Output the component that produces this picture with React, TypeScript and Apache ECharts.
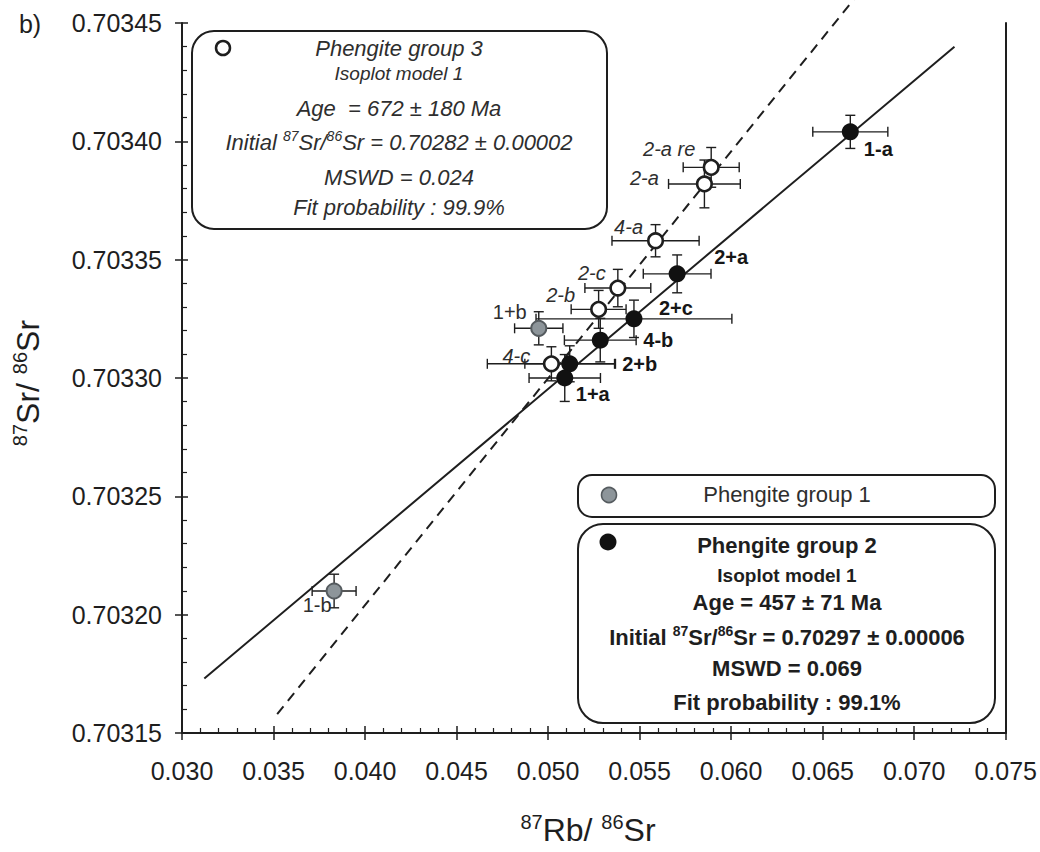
import React, { useEffect, useRef } from "react";
import * as echarts from "echarts";

const FONT = '"Liberation Sans", Arial, Helvetica, sans-serif';
const INK = "#1e1e1e";
const GREY_TXT = "#2e2e2e";

// ---- axes ----
const xMin = 0.03;
const xMax = 0.075;
const xStep = 0.005;
const yMin = 0.70315;
const yMax = 0.70345;
const yStep = 0.00005;

// ---- Phengite group 3 (open circles) ----
const g3Names = ["2-a re", "2-a", "4-a", "2-c", "2-b", "4-c"];
const g3X = [0.05891, 0.05854, 0.05587, 0.05381, 0.05276, 0.05018];
const g3Y = [0.703389, 0.703382, 0.703358, 0.703338, 0.703329, 0.703306];
const g3XErr = [0.00153, 0.00196, 0.00238, 0.0018, 0.0015, 0.0035];
const g3YErr = [0.0000084, 0.0000101, 0.0000068, 0.0000079, 0.000008, 0.0000072];

// ---- Phengite group 2 (black circles) ----
const g2Names = ["1-a", "2+a", "2+c", "4-b", "2+b", "1+a"];
const g2X = [0.06651, 0.05705, 0.05469, 0.05285, 0.05118, 0.05091];
const g2Y = [0.703404, 0.703344, 0.703325, 0.703316, 0.703306, 0.7033];
const g2XErr = [0.00205, 0.00185, 0.00535, 0.00196, 0.00245, 0.00195];
const g2YErr = [0.000007, 0.000008, 0.0000079, 0.0000092, 0.0000076, 0.0000099];

// ---- Phengite group 1 (grey circles) ----
const g1Names = ["1+b", "1-b"];
const g1X = [0.04949, 0.03831];
const g1Y = [0.703321, 0.70321];
const g1XErr = [0.00132, 0.0012];
const g1YErr = [0.000007, 0.0000071];

// ---- isochrons (end points) ----
const iso2X = [0.03122, 0.0722];
const iso2Y = [0.703173, 0.70344];
const iso3X = [0.0352, 0.0667];
const iso3Y = [0.703158, 0.70346];

// label placement (pixels relative to the point)
const labelOffset: Record<string, [number, number]> = {
  "1-a": [28, 17],
  "2-a re": [-42, -18],
  "2-a": [-60, -6],
  "4-a": [-27, -14],
  "2+a": [54, -17],
  "2-c": [-26, -15],
  "2-b": [-38, -14],
  "1+b": [-29, -16],
  "2+c": [42, -11],
  "4-b": [58, 0],
  "4-c": [-35, -8],
  "2+b": [70, 0],
  "1+a": [28, 16],
  "1-b": [-17, 14],
};

function points(names: string[], xs: number[], ys: number[]) {
  return names.map((n, i) => ({
    name: n,
    value: [xs[i], ys[i]],
    label: { offset: labelOffset[n] },
  }));
}

function errRows(xs: number[], ys: number[], ex: number[], ey: number[]) {
  return xs.map((x, i) => [x, ys[i], ex[i], ey[i]]);
}

const errData = [
  ...errRows(g3X, g3Y, g3XErr, g3YErr),
  ...errRows(g1X, g1Y, g1XErr, g1YErr),
  ...errRows(g2X, g2Y, g2XErr, g2YErr),
];

function supRich(size: number, weight: string, style: string, fill: string) {
  return {
    s: {
      fontSize: size,
      fontWeight: weight,
      fontStyle: style,
      fontFamily: FONT,
      fill,
      verticalAlign: "top",
      lineHeight: size,
    },
  };
}

function boxText(
  text: string,
  x: number,
  y: number,
  size: number,
  weight: string,
  style: string,
  fill: string,
  supSize = 14
) {
  return {
    type: "text",
    x,
    y,
    z: 20,
    style: {
      text,
      fontSize: size,
      fontWeight: weight,
      fontStyle: style,
      fontFamily: FONT,
      fill,
      align: "center",
      verticalAlign: "middle",
      lineHeight: size + 4,
      rich: supRich(supSize, weight, style, fill),
    },
  };
}

export default function App() {
  const ref = useRef<HTMLDivElement>(null);

  useEffect(() => {
    const chart = echarts.init(ref.current!, null, { renderer: "svg" });

    const commonLabel = {
      show: true,
      formatter: "{b}",
      position: "inside",
      fontSize: 20,
      fontFamily: FONT,
      opacity: 1,
      textBorderWidth: 0,
      textBorderColor: "transparent",
    };

    const option: any = {
      animation: false,
      backgroundColor: "#ffffff",
      grid: { left: 182, top: 23, width: 825, height: 710, containLabel: false },
      xAxis: [
        {
          type: "value",
          min: xMin,
          max: xMax,
          interval: xStep,
          position: "bottom",
          axisLine: { show: true, onZero: false, lineStyle: { color: INK, width: 2 } },
          axisTick: { show: true, inside: true, length: 7, lineStyle: { color: INK, width: 1.5 } },
          minorTick: { show: true, splitNumber: 5, length: 5, lineStyle: { color: INK, width: 1.2 } },
          axisLabel: {
            formatter: (v: number) => v.toFixed(3),
            fontSize: 25,
            fontFamily: FONT,
            color: INK,
            margin: 25,
          },
          splitLine: { show: false },
        },
        {
          type: "value",
          min: xMin,
          max: xMax,
          interval: xStep,
          position: "bottom",
          axisLine: { show: false, onZero: false },
          axisTick: { show: true, inside: false, length: 7, lineStyle: { color: INK, width: 1.5 } },
          axisLabel: { show: false },
          splitLine: { show: false },
        },
      ],
      yAxis: [
        {
          type: "value",
          min: yMin,
          max: yMax,
          interval: yStep,
          position: "left",
          axisLine: { show: true, onZero: false, lineStyle: { color: INK, width: 2 } },
          axisTick: { show: true, inside: true, length: 6, lineStyle: { color: INK, width: 1.5 } },
          minorTick: { show: true, splitNumber: 5, length: 5, lineStyle: { color: INK, width: 1.2 } },
          axisLabel: {
            formatter: (v: number) => v.toFixed(5),
            fontSize: 25,
            fontFamily: FONT,
            color: INK,
            margin: 20,
          },
          splitLine: { show: false },
        },
        {
          type: "value",
          min: yMin,
          max: yMax,
          interval: yStep,
          position: "left",
          axisLine: { show: false, onZero: false },
          axisTick: { show: true, inside: false, length: 7, lineStyle: { color: INK, width: 1.5 } },
          axisLabel: { show: false },
          splitLine: { show: false },
        },
        {
          type: "value",
          min: yMin,
          max: yMax,
          position: "right",
          axisLine: { show: true, onZero: false, lineStyle: { color: INK, width: 2 } },
          axisTick: { show: false },
          axisLabel: { show: false },
          splitLine: { show: false },
        },
      ],
      series: [
        {
          type: "line",
          name: "Isochron group 2",
          data: iso2X.map((x, i) => [x, iso2Y[i]]),
          showSymbol: false,
          symbol: "none",
          lineStyle: { color: INK, width: 2 },
          z: 2,
          silent: true,
        },
        {
          type: "line",
          name: "Isochron group 3",
          data: iso3X.map((x, i) => [x, iso3Y[i]]),
          showSymbol: false,
          symbol: "none",
          clip: false,
          lineStyle: { color: INK, width: 2, type: [10, 7] },
          z: 2,
          silent: true,
        },
        {
          type: "custom",
          name: "errors",
          data: errData,
          encode: { x: 0, y: 1 },
          z: 3,
          silent: true,
          renderItem: (params: any, api: any) => {
            const x = api.value(0);
            const y = api.value(1);
            const ex = api.value(2);
            const ey = api.value(3);
            const l = api.coord([x - ex, y]);
            const r = api.coord([x + ex, y]);
            const t = api.coord([x, y + ey]);
            const b = api.coord([x, y - ey]);
            const c = 5;
            const st = { stroke: INK, lineWidth: 1.4 };
            const seg = (x1: number, y1: number, x2: number, y2: number) => ({
              type: "line",
              shape: { x1, y1, x2, y2 },
              style: st,
            });
            return {
              type: "group",
              children: [
                seg(l[0], l[1], r[0], r[1]),
                seg(t[0], t[1], b[0], b[1]),
                seg(l[0], l[1] - c, l[0], l[1] + c),
                seg(r[0], r[1] - c, r[0], r[1] + c),
                seg(t[0] - c, t[1], t[0] + c, t[1]),
                seg(b[0] - c, b[1], b[0] + c, b[1]),
              ],
            };
          },
        },
        {
          type: "scatter",
          name: "Phengite group 3",
          data: points(g3Names, g3X, g3Y),
          symbol: "circle",
          symbolSize: 14.5,
          itemStyle: { color: "#ffffff", borderColor: INK, borderWidth: 2.6, opacity: 1 },
          label: { ...commonLabel, fontStyle: "italic", color: GREY_TXT },
          z: 5,
        },
        {
          type: "scatter",
          name: "Phengite group 1",
          data: points(g1Names, g1X, g1Y),
          symbol: "circle",
          symbolSize: 15,
          itemStyle: { color: "#8d959a", borderColor: "#555b5f", borderWidth: 2, opacity: 1 },
          label: { ...commonLabel, color: GREY_TXT },
          z: 6,
        },
        {
          type: "scatter",
          name: "Phengite group 2",
          data: points(g2Names, g2X, g2Y),
          symbol: "circle",
          symbolSize: 17,
          itemStyle: { color: "#111111", opacity: 1 },
          label: { ...commonLabel, fontWeight: "bold", color: "#161616" },
          z: 7,
        },
      ],
      graphic: [
        // panel label
        {
          type: "text",
          x: 30,
          y: 24,
          style: {
            text: "b)",
            fontSize: 25,
            fontFamily: FONT,
            fill: INK,
            align: "center",
            verticalAlign: "middle",
          },
        },
        // y-axis title
        {
          type: "text",
          x: 28,
          y: 383,
          rotation: Math.PI / 2,
          style: {
            text: "{s|87}Sr/ {s|86}Sr",
            fontSize: 32,
            fontFamily: FONT,
            fill: INK,
            align: "center",
            verticalAlign: "middle",
            lineHeight: 36,
            rich: supRich(20, "normal", "normal", INK),
          },
        },
        // x-axis title
        {
          type: "text",
          x: 588,
          y: 830,
          style: {
            text: "{s|87}Rb/ {s|86}Sr",
            fontSize: 32,
            fontFamily: FONT,
            fill: INK,
            align: "center",
            verticalAlign: "middle",
            lineHeight: 36,
            rich: supRich(20, "normal", "normal", INK),
          },
        },
        // group 3 box
        {
          type: "rect",
          shape: { x: 192, y: 31, width: 415, height: 198, r: 22 },
          style: { fill: "#ffffff", stroke: INK, lineWidth: 2 },
          z: 10,
        },
        {
          type: "circle",
          shape: { cx: 223, cy: 48, r: 7 },
          style: { fill: "#ffffff", stroke: INK, lineWidth: 2.5 },
          z: 20,
        },
        boxText("Phengite group 3", 399, 48, 22, "normal", "italic", GREY_TXT),
        boxText("Isoplot model 1", 399, 73, 19, "normal", "italic", GREY_TXT),
        boxText("Age  = 672 ± 180 Ma", 399, 108, 22, "normal", "italic", GREY_TXT),
        boxText("Initial {s|87}Sr/{s|86}Sr = 0.70282 ± 0.00002", 399, 142, 22, "normal", "italic", GREY_TXT),
        boxText("MSWD = 0.024", 399, 177, 22, "normal", "italic", GREY_TXT),
        boxText("Fit probability : 99.9%", 399, 207, 22, "normal", "italic", GREY_TXT),
        // group 1 box
        {
          type: "rect",
          shape: { x: 578, y: 475, width: 417, height: 42, r: 14 },
          style: { fill: "#ffffff", stroke: INK, lineWidth: 2 },
          z: 10,
        },
        {
          type: "circle",
          shape: { cx: 609, cy: 495, r: 7.5 },
          style: { fill: "#8d959a", stroke: "#555b5f", lineWidth: 1.6 },
          z: 20,
        },
        boxText("Phengite group 1", 787, 494, 22, "normal", "normal", GREY_TXT),
        // group 2 box
        {
          type: "rect",
          shape: { x: 578, y: 524, width: 417, height: 199, r: 25 },
          style: { fill: "#ffffff", stroke: INK, lineWidth: 2 },
          z: 10,
        },
        {
          type: "circle",
          shape: { cx: 608, cy: 542, r: 8.5 },
          style: { fill: "#111111" },
          z: 20,
        },
        boxText("Phengite group 2", 787, 545, 22, "bold", "normal", INK),
        boxText("Isoplot model 1", 787, 575, 19, "bold", "normal", INK),
        boxText("Age = 457 ± 71 Ma", 787, 602, 22, "bold", "normal", INK),
        boxText("Initial {s|87}Sr/{s|86}Sr = 0.70297 ± 0.00006", 787, 637, 22, "bold", "normal", INK),
        boxText("MSWD = 0.069", 787, 668, 22, "bold", "normal", INK),
        boxText("Fit probability : 99.1%", 787, 702, 22, "bold", "normal", INK),
      ],
    };

    chart.setOption(option);
    return () => chart.dispose();
  }, []);

  return (
    <div
      ref={ref}
      style={{ position: "fixed", left: 0, top: 0, width: 1040, height: 852, background: "#ffffff" }}
    />
  );
}
